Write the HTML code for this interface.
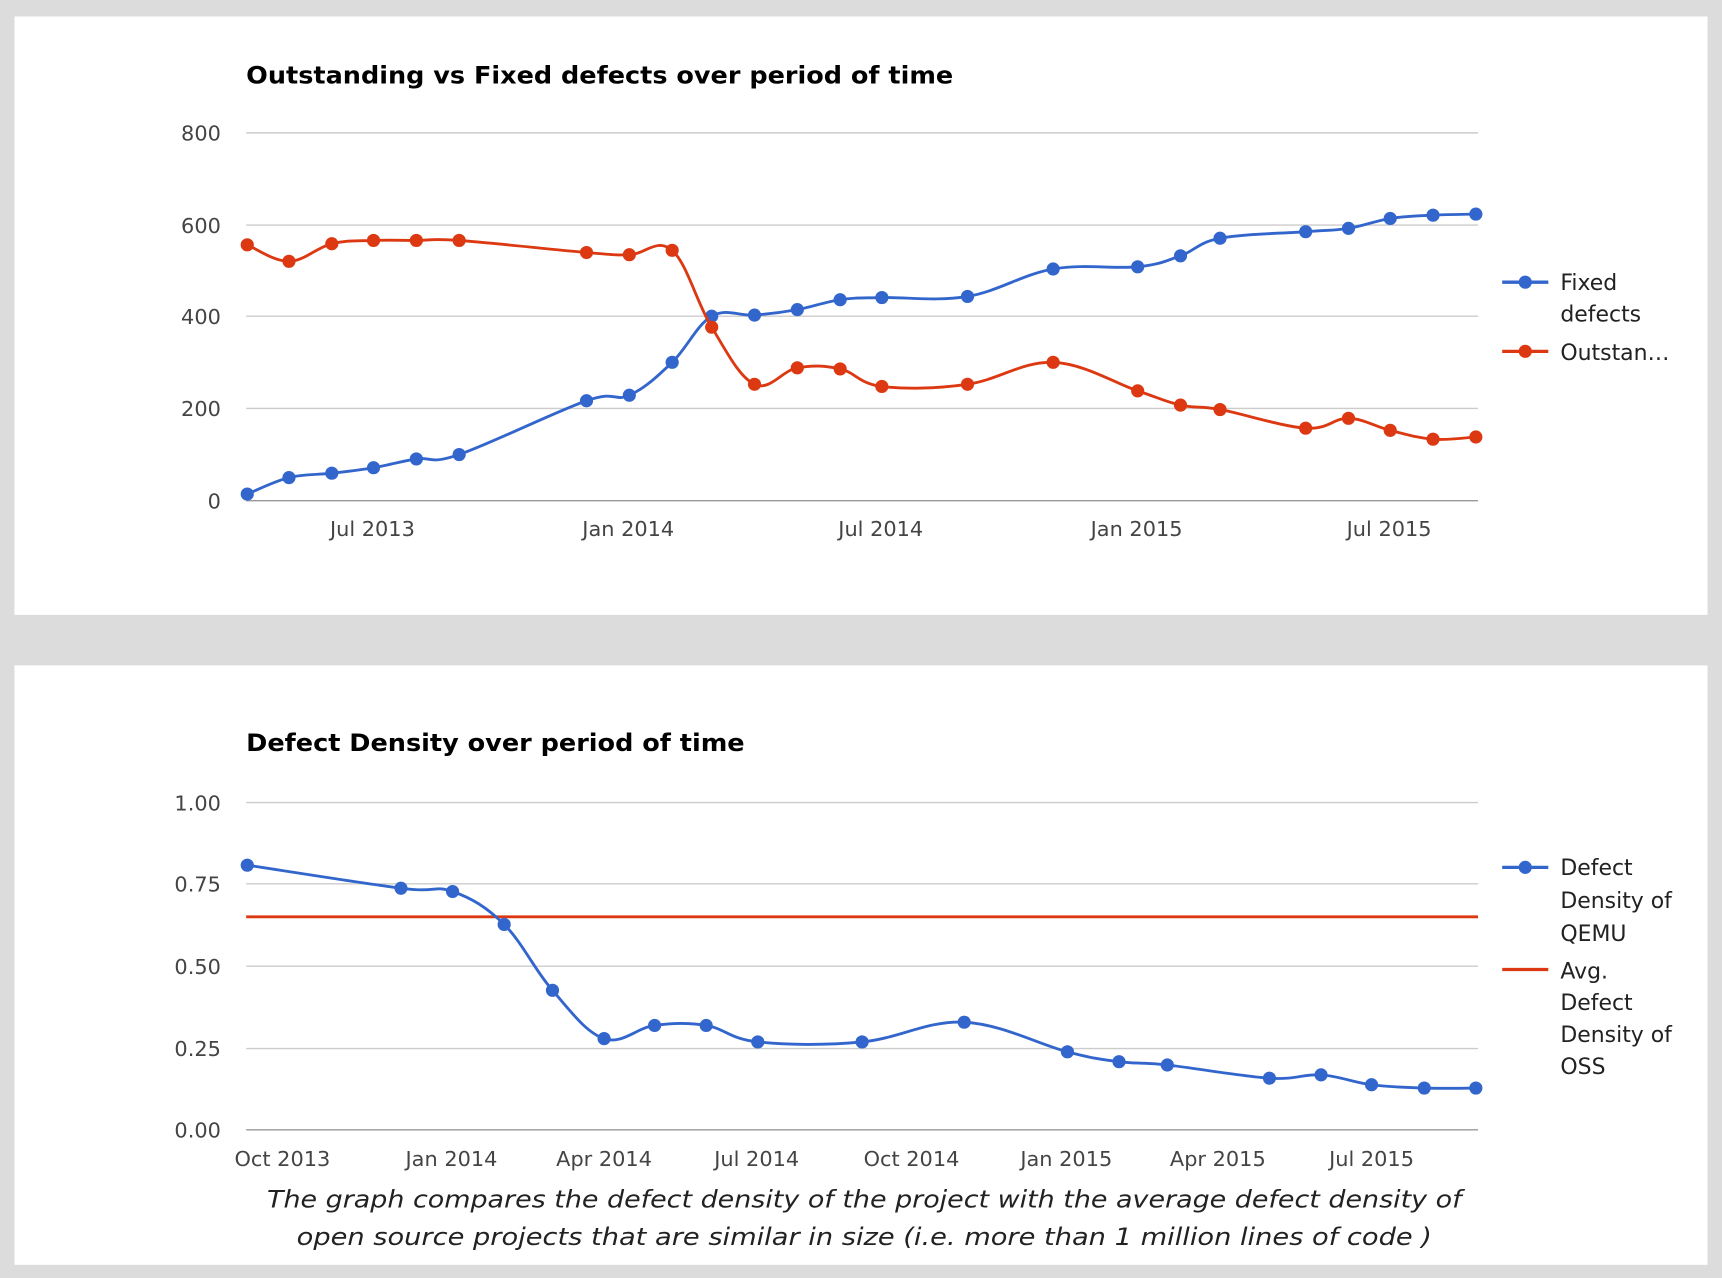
<!DOCTYPE html>
<html><head><meta charset="utf-8"><style>
html,body{margin:0;padding:0;background:#dcdcdc;}
svg{display:block;}
text{font-family:"DejaVu Sans","Liberation Sans",sans-serif;}
</style></head><body>
<svg id="s" width="1722" height="1278" viewBox="0 0 1568 1164" xmlns="http://www.w3.org/2000/svg">
<rect x="0" y="0" width="1568" height="1164" fill="#dcdcdc"/>
<rect x="13" y="15" width="1542" height="545" fill="#fff"/>
<rect x="13" y="606" width="1542" height="546" fill="#fff"/>
<g id="g"></g>
</svg>
<script>
var g=document.getElementById('g'),h='';
function T(x,y,s,o){h+='<text x="'+x+'" y="'+y+'" '+(o||'')+'>'+s+'</text>';}
function path(p,c){var d='M'+p[0][0]+','+p[0][1];
for(var i=0;i<p.length-1;i++){var p0=p[i-1]||p[i],p1=p[i],p2=p[i+1],p3=p[i+2]||p2;var k=0.18;
d+=' C'+(p1[0]+(p2[0]-p0[0])*k)+','+(p1[1]+(p2[1]-p0[1])*k)+' '+(p2[0]-(p3[0]-p1[0])*k)+','+(p2[1]-(p3[1]-p1[1])*k)+' '+p2[0]+','+p2[1];}
h+='<path d="'+d+'" fill="none" stroke="'+c+'" stroke-width="2.6"/>';
p.forEach(function(q){h+='<circle cx="'+q[0]+'" cy="'+q[1]+'" r="6" fill="'+c+'"/>';});}
var B='#3366cc',R='#dc3912';
var TK='font-size="19" fill="#444"',LG='font-size="20" fill="#222"';
// chart 1
T(224,76,'Outstanding vs Fixed defects over period of time','font-size="22" font-weight="bold" fill="#000" textLength="644" lengthAdjust="spacingAndGlyphs"');
[[800,121],[600,205],[400,288],[200,372],[0,456]].forEach(function(a){h+='<line x1="224" x2="1346" y1="'+a[1]+'" y2="'+a[1]+'" stroke="'+(a[0]==0?'#999':'#ccc')+'" stroke-width="1.3"/>';T(201,a[1]+7,a[0],TK+' text-anchor="end"');});
[['Jul 2013',339],['Jan 2014',572],['Jul 2014',802],['Jan 2015',1035],['Jul 2015',1265]].forEach(function(a){T(a[1],488,a[0],TK+' text-anchor="middle"');});
path([[225,450],[263,435],[302,431],[340,426],[379,418],[418,414],[534,365],[573,360],[612,330],[648,288],[687,287],[726,282],[765,273],[803,271],[881,270],[959,245],[1036,243],[1075,233],[1111,217],[1189,211],[1228,208],[1266,199],[1305,196],[1344,195]],B);
path([[225,223],[263,238],[302,222],[340,219],[379,219],[418,219],[534,230],[573,232],[612,228],[648,298],[687,350],[726,335],[765,336],[803,352],[881,350],[959,330],[1036,356],[1075,369],[1111,373],[1189,390],[1228,381],[1266,392],[1305,400],[1344,398]],R);
function leg(y,c){h+='<line x1="1368" x2="1410" y1="'+y+'" y2="'+y+'" stroke="'+c+'" stroke-width="3"/><circle cx="1389" cy="'+y+'" r="6" fill="'+c+'"/>';}
leg(257,B);leg(320,R);
T(1421,264,'Fixed',LG);T(1421,293,'defects',LG);T(1421,328,'Outstan…',LG);
// chart 2
T(224,684,'Defect Density over period of time','font-size="22" font-weight="bold" fill="#000" textLength="454" lengthAdjust="spacingAndGlyphs"');
[['1.00',731],['0.75',805],['0.50',880],['0.25',955],['0.00',1029]].forEach(function(a){h+='<line x1="224" x2="1346" y1="'+a[1]+'" y2="'+a[1]+'" stroke="'+(a[0]=='0.00'?'#999':'#ccc')+'" stroke-width="1.3"/>';T(201,a[1]+7,a[0],TK+' text-anchor="end"');});
[['Oct 2013',257],['Jan 2014',411],['Apr 2014',550],['Jul 2014',689],['Oct 2014',830],['Jan 2015',971],['Apr 2015',1109],['Jul 2015',1249]].forEach(function(a){T(a[1],1062,a[0],TK+' text-anchor="middle"');});
h+='<line x1="224" x2="1346" y1="835" y2="835" stroke="'+R+'" stroke-width="2.6"/>';
path([[225,788],[365,809],[412,812],[459,842],[503,902],[550,946],[596,934],[643,934],[690,949],[785,949],[878,931],[972,958],[1019,967],[1063,970],[1156,982],[1203,979],[1249,988],[1297,991],[1344,991]],B);
leg(790,B);h+='<line x1="1368" x2="1410" y1="883" y2="883" stroke="'+R+'" stroke-width="3"/>';
[['Defect',797],['Density of',827],['QEMU',857],['Avg.',891],['Defect',920],['Density of',949],['OSS',978]].forEach(function(a){T(1421,a[1],a[0],LG);});
T(243,1100,'The graph compares the defect density of the project with the average defect density of','font-size="22" font-style="italic" fill="#222" textLength="1088" lengthAdjust="spacingAndGlyphs"');
T(270,1134,'open source projects that are similar in size (i.e. more than 1 million lines of code )','font-size="22" font-style="italic" fill="#222" textLength="1034" lengthAdjust="spacingAndGlyphs"');
g.innerHTML=h;
</script>
</body></html>
